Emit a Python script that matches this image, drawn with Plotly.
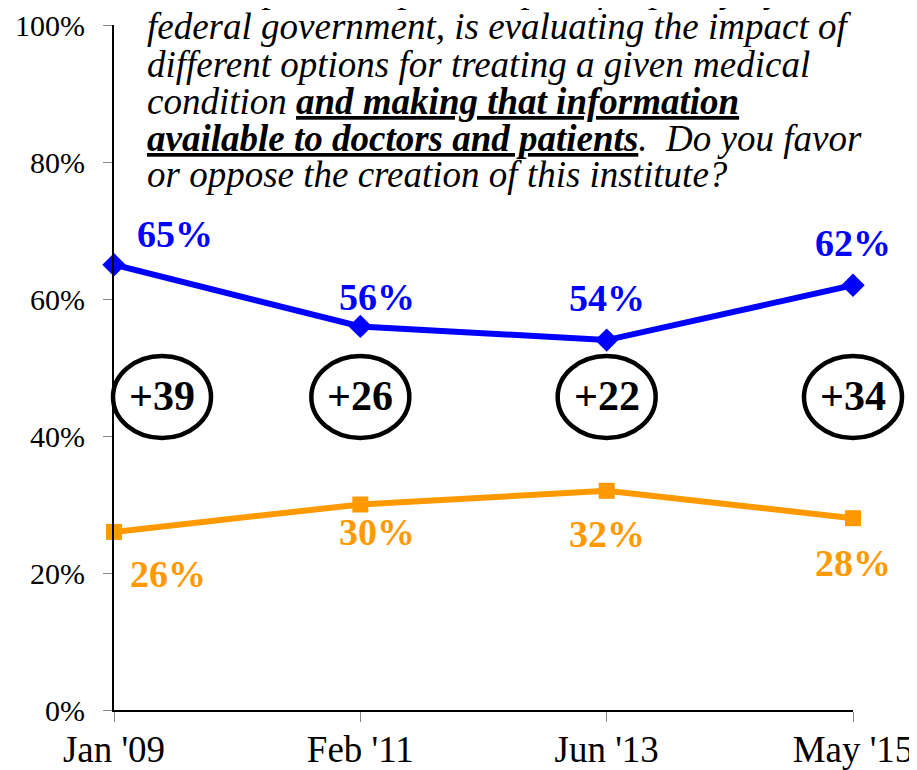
import plotly.graph_objects as go

# survey waves and results (%)
waves = ["Jan '09", "Feb '11", "Jun '13", "May '15"]
favor = [65, 56, 54, 62]
oppose = [26, 30, 32, 28]
net = [f - o for f, o in zip(favor, oppose)]
y_ticks = [0, 20, 40, 60, 80, 100]

question_lines = [
    "An independent, private, paid for partly by the",
    "federal government, is evaluating the impact of",
    "different options for treating a given medical",
    "condition <b><u>and making that information</u></b>",
    "<b><u>available to doctors and patients</u></b>.  Do you favor",
    "or oppose the creation of this institute?",
]

BLUE = "#0000FF"
ORANGE = "#FF9900"
SERIF = "Liberation Serif"

# page offset of the figure (browser body margin) and plot area in page pixels
OFF = 8
LEFT, RIGHT, TOP, BOTTOM = 114, 853, 25, 710


def py(pix):
    return (BOTTOM - pix) / (BOTTOM - TOP)


def px(pix):
    return (pix - LEFT) / (RIGHT - LEFT)


fig = go.Figure()
fig.add_trace(go.Scatter(
    x=waves, y=favor, mode="lines+markers", name="Favor",
    line=dict(color=BLUE, width=6),
    marker=dict(symbol="diamond", size=18, color=BLUE),
    cliponaxis=False,
))
fig.add_trace(go.Scatter(
    x=waves, y=oppose, mode="lines+markers", name="Oppose",
    line=dict(color=ORANGE, width=6),
    marker=dict(symbol="square", size=16, color=ORANGE),
    cliponaxis=False,
))

# value labels
fav_shift = [(61, 31), (17, 29), (0, 42), (0, 42)]
opp_shift = [(54, -42), (17, -27), (0, -43), (0, -45)]
for i, w in enumerate(waves):
    fig.add_annotation(x=w, y=favor[i], text=f"<b>{favor[i]}%</b>",
                       showarrow=False, xshift=fav_shift[i][0], yshift=fav_shift[i][1],
                       font=dict(family=SERIF, size=38, color=BLUE))
    fig.add_annotation(x=w, y=oppose[i], text=f"<b>{oppose[i]}%</b>",
                       showarrow=False, xshift=opp_shift[i][0], yshift=opp_shift[i][1],
                       font=dict(family=SERIF, size=38, color=ORANGE))

# net favorability ellipses
NET_Y = 45.7
for i, w in enumerate(waves):
    dx = 48 if i == 0 else 0
    fig.add_shape(type="circle", xref="paper", yref="y",
                  xsizemode="pixel", ysizemode="pixel",
                  xanchor=i / (len(waves) - 1), yanchor=NET_Y,
                  x0=dx - 49, x1=dx + 49, y0=-41, y1=41,
                  line=dict(color="black", width=4.5))
    fig.add_annotation(x=w, y=NET_Y, text=f"<b>+{net[i]}</b>", showarrow=False,
                       xshift=dx, yshift=1, font=dict(family=SERIF, size=42, color="black"))

# question text
for k, line in enumerate(question_lines):
    fig.add_annotation(xref="paper", yref="paper", x=px(145),
                       y=py(-10 + 37 * k), xanchor="left", yanchor="middle",
                       text=f"<i>{line}</i>", showarrow=False,
                       font=dict(family=SERIF, size=37, color="black"))

fig.update_layout(
    width=917, height=770,
    margin=dict(l=LEFT - OFF, r=917 - (RIGHT - OFF), t=TOP - OFF, b=770 - (BOTTOM - OFF)),
    paper_bgcolor="white", plot_bgcolor="white",
    showlegend=False,
    font=dict(family=SERIF, color="black"),
)
fig.update_xaxes(
    type="category", range=[0, len(waves) - 1], automargin=False,
    ticklabelstandoff=-4,
    showline=True, linecolor="black", linewidth=2,
    ticks="outside", ticklen=10, tickcolor="#888888", tickwidth=1,
    tickfont=dict(family=SERIF, size=37), showgrid=False, zeroline=False,
)
fig.update_yaxes(
    range=[0, 100], tickvals=y_ticks, ticktext=[f"{v}%" for v in y_ticks],
    automargin=False, ticklabelstandoff=12,
    showline=True, linecolor="black", linewidth=2,
    ticks="outside", ticklen=9, tickcolor="#888888", tickwidth=1,
    tickfont=dict(family=SERIF, size=30), showgrid=False, zeroline=False,
)

fig.write_html("out.html")
